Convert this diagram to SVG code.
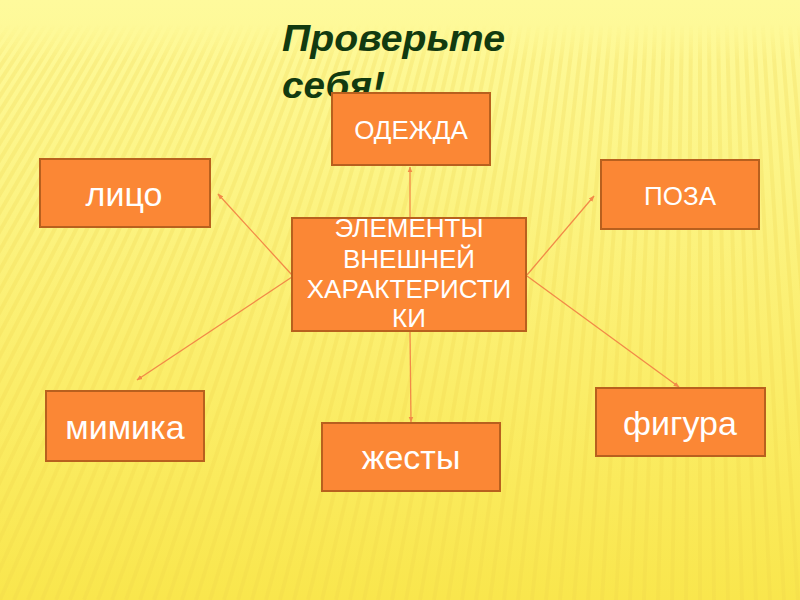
<svg xmlns="http://www.w3.org/2000/svg" width="800" height="600" viewBox="0 0 800 600">
<defs>
<linearGradient id="bg" x1="0" y1="0" x2="0" y2="1">
<stop offset="0" stop-color="#fefa9c"/>
<stop offset="0.3" stop-color="#fcf485"/>
<stop offset="0.65" stop-color="#fbed68"/>
<stop offset="1" stop-color="#f9e64c"/>
</linearGradient>
<linearGradient id="fade" x1="0" y1="0" x2="0" y2="600" gradientUnits="userSpaceOnUse">
<stop offset="0" stop-color="#000"/>
<stop offset="0.04" stop-color="#000"/>
<stop offset="0.1" stop-color="#fff"/>
<stop offset="1" stop-color="#fff"/>
</linearGradient>
<mask id="belowTop" maskUnits="userSpaceOnUse" x="0" y="0" width="800" height="600"><rect x="0" y="0" width="800" height="600" fill="url(#fade)"/></mask>
<marker id="arr" viewBox="0 0 10 10" refX="9" refY="5" markerWidth="6" markerHeight="6" orient="auto" markerUnits="userSpaceOnUse">
<path d="M0,1 L10,5 L0,9 z" fill="#f28a48"/>
</marker>
</defs>
<style>
.box{fill:#fb8735;stroke:#b8601e;stroke-width:2}
.cap{font-family:"Liberation Sans",Arial,sans-serif;font-size:26px;fill:#ffffff;text-anchor:middle}
.low{font-family:"Liberation Sans",Arial,sans-serif;font-size:34px;fill:#ffffff;text-anchor:middle}
.con{stroke:#f28a48;stroke-width:1.3;fill:none;marker-end:url(#arr)}
.title{font-family:"Liberation Sans",Arial,sans-serif;font-size:36px;font-weight:bold;font-style:italic;fill:#123a10}
.stripes{stroke:#eed24a;stroke-width:4;opacity:0.22;fill:none}
</style>
<rect width="800" height="600" fill="url(#bg)"/>
<path class="stripes" mask="url(#belowTop)" d="M700 -1000L-420 600M700 -1000L-406 600M700 -1000L-392 600M700 -1000L-378 600M700 -1000L-364 600M700 -1000L-350 600M700 -1000L-336 600M700 -1000L-322 600M700 -1000L-308 600M700 -1000L-294 600M700 -1000L-280 600M700 -1000L-266 600M700 -1000L-252 600M700 -1000L-238 600M700 -1000L-224 600M700 -1000L-210 600M700 -1000L-196 600M700 -1000L-182 600M700 -1000L-168 600M700 -1000L-154 600M700 -1000L-140 600M700 -1000L-126 600M700 -1000L-112 600M700 -1000L-98 600M700 -1000L-84 600M700 -1000L-70 600M700 -1000L-56 600M700 -1000L-42 600M700 -1000L-28 600M700 -1000L-14 600M700 -1000L0 600M700 -1000L14 600M700 -1000L28 600M700 -1000L42 600M700 -1000L56 600M700 -1000L70 600M700 -1000L84 600M700 -1000L98 600M700 -1000L112 600M700 -1000L126 600M700 -1000L140 600M700 -1000L154 600M700 -1000L168 600M700 -1000L182 600M700 -1000L196 600M700 -1000L210 600M700 -1000L224 600M700 -1000L238 600M700 -1000L252 600M700 -1000L266 600M700 -1000L280 600M700 -1000L294 600M700 -1000L308 600M700 -1000L322 600M700 -1000L336 600M700 -1000L350 600M700 -1000L364 600M700 -1000L378 600M700 -1000L392 600M700 -1000L406 600M700 -1000L420 600M700 -1000L434 600M700 -1000L448 600M700 -1000L462 600M700 -1000L476 600M700 -1000L490 600M700 -1000L504 600M700 -1000L518 600M700 -1000L532 600M700 -1000L546 600M700 -1000L560 600M700 -1000L574 600M700 -1000L588 600M700 -1000L602 600M700 -1000L616 600M700 -1000L630 600M700 -1000L644 600M700 -1000L658 600M700 -1000L672 600M700 -1000L686 600M700 -1000L700 600M700 -1000L714 600M700 -1000L728 600M700 -1000L742 600M700 -1000L756 600M700 -1000L770 600M700 -1000L784 600M700 -1000L798 600M700 -1000L812 600M700 -1000L826 600M700 -1000L840 600M700 -1000L854 600"/>
<g id="title">
<text class="title" x="282" y="51" textLength="223" lengthAdjust="spacingAndGlyphs">Проверьте</text>
<text class="title" x="282" y="98" textLength="103" lengthAdjust="spacingAndGlyphs">себя!</text>
</g>
<g id="connectors">
<line class="con" x1="292" y1="275" x2="218" y2="194"/>
<line class="con" x1="292" y1="277" x2="137" y2="380"/>
<line class="con" x1="527" y1="275" x2="594" y2="196"/>
<line class="con" x1="527" y1="276" x2="679" y2="387"/>
<line class="con" x1="410" y1="218" x2="410" y2="167"/>
<line class="con" x1="410" y1="332" x2="411" y2="422"/>
</g>
<g id="odezhda">
<rect class="box" x="332" y="93" width="158" height="72"/>
<text class="cap" x="411" y="139">ОДЕЖДА</text>
</g>
<g id="litso">
<rect class="box" x="40" y="159" width="170" height="68"/>
<text class="low" x="124" y="206">лицо</text>
</g>
<g id="poza">
<rect class="box" x="601" y="160" width="158" height="69"/>
<text class="cap" x="680" y="205">ПОЗА</text>
</g>
<g id="center">
<rect class="box" x="292" y="218" width="234" height="113"/>
<text class="cap" x="409" y="237">ЭЛЕМЕНТЫ</text>
<text class="cap" x="409" y="268">ВНЕШНЕЙ</text>
<text class="cap" x="409" y="298">ХАРАКТЕРИСТИ</text>
<text class="cap" x="409" y="327">КИ</text>
</g>
<g id="mimika">
<rect class="box" x="46" y="391" width="158" height="70"/>
<text class="low" x="125" y="439">мимика</text>
</g>
<g id="zhesty">
<rect class="box" x="322" y="423" width="178" height="68"/>
<text class="low" x="411" y="469">жесты</text>
</g>
<g id="figura">
<rect class="box" x="596" y="388" width="169" height="68"/>
<text class="low" x="680" y="435">фигура</text>
</g>
</svg>
